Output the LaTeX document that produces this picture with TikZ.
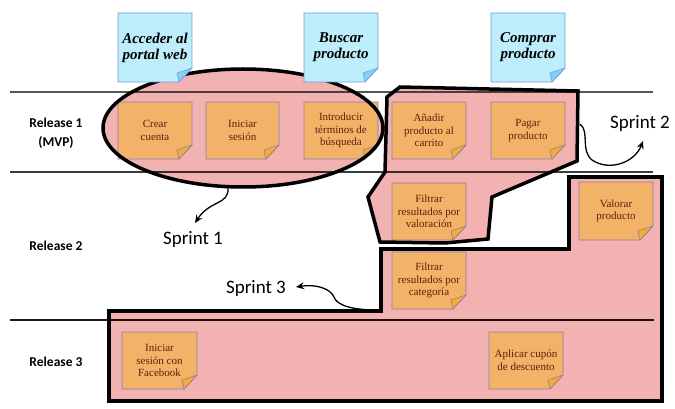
\documentclass[tikz,border=0pt]{standalone}
\usepackage{fontspec}
\setmainfont{Liberation Serif}
\newfontfamily\calibri{Carlito}
\usetikzlibrary{arrows.meta}
\definecolor{pinkf}{RGB}{242,178,178}
\definecolor{orangeb}{RGB}{242,178,104}
\definecolor{orangef}{RGB}{244,172,52}
\definecolor{stickyedge}{RGB}{140,125,165}
\definecolor{stickytext}{RGB}{100,28,12}
\definecolor{blueb}{RGB}{190,237,252}
\definecolor{bluef}{RGB}{135,208,245}
\definecolor{blueedge}{RGB}{110,160,215}
\tikzset{
  obody/.style={fill=orangeb, draw=stickyedge, line width=0.8pt},
  ofold/.style={fill=orangef, draw=stickyedge, line width=0.6pt, line join=round},
  otext/.style={align=center, font=\fontsize{11}{12.7}\selectfont, text=stickytext, inner sep=0pt},
  bbody/.style={fill=blueb, draw=blueedge, line width=0.8pt},
  bfold/.style={fill=bluef, draw=blueedge, line width=0.6pt, line join=round},
  btext/.style={align=center, font=\fontsize{15}{16}\selectfont\bfseries\itshape, text=black, inner sep=0pt},
  sprintline/.style={draw=black, line width=3.5pt, line join=miter},
  sprintfill/.style={fill=pinkf},
  sprintlabel/.style={font=\fontsize{19}{22}\calibri, inner sep=0pt},
  relabel/.style={font=\fontsize{13.5}{19}\calibri\bfseries, align=center, inner sep=0pt},
  sparrow/.style={-{Stealth[length=8pt,width=7pt]}, line width=1.3pt},
  lane/.style={line width=1.8pt}
}
% #1 kind (o/b), #2 name, #3 x1, #4 y1, #5 x2, #6 y2, #7 text
\newcommand\sticky[7]{%
  \filldraw[#1body] (#3,#4) -- (#5,#4) -- (#5,#6-14) -- (#5-13,#6) -- (#3,#6) -- cycle;
  \filldraw[#1fold] (#5-13,#6) -- (#5,#6-14) -- (#5-15,#6-9) -- cycle;
  \node[#1text] (#2) at ({(#3+#5)/2},{(#4+#6)/2}) {#7};
}
\begin{document}
\begin{tikzpicture}[x=1pt,y=-1pt]
\useasboundingbox (0,0) rectangle (675,409);
% lanes
\coordinate (l1a) at (10,92);  \coordinate (l1b) at (653,92);
\coordinate (l2a) at (10,172); \coordinate (l2b) at (653,172);
\coordinate (l3a) at (10,320); \coordinate (l3b) at (654,320);
\draw[lane, draw={rgb,255:red,85;green,85;blue,85}] (l1a) -- (l1b);
\draw[lane, line width=1.4pt, draw={rgb,255:red,60;green,60;blue,60}] (l2a) -- (l2b);
\draw[lane, line width=1.4pt, draw={rgb,255:red,40;green,20;blue,20}] (l3a) -- (l3b);
% release labels
\node[relabel] (r1) at (56,133) {Release 1\\(MVP)};
\node[relabel] (r2) at (56,246) {Release 2};
\node[relabel] (r3) at (56,362) {Release 3};
% sprint fills (multiply so lanes show through)
\begin{scope}[blend mode=multiply]
\fill[sprintfill] (243,128) ellipse [x radius=140, y radius=59];
\fill[sprintfill] (400,87) -- (578,91) -- (577,161) -- (492,197) -- (488,239) -- (445,243) -- (380,242) -- (368,197) -- (385,172) -- (387,97) -- cycle;
\fill[sprintfill] (109,311) -- (381,311) -- (381,249) -- (569,249) -- (569,177) -- (662,177) -- (662,401) -- (109,401) -- cycle;
\end{scope}
% orange stickies
\sticky{o}{crear}{118}{102}{192}{159}{Crear\\cuenta}
\sticky{o}{inic}{206}{102}{279}{159}{Iniciar\\sesión}
\sticky{o}{intro}{304}{102}{378}{159}{Introducir\\términos de\\búsqueda}
\sticky{o}{anad}{392}{102}{466}{159}{Añadir\\producto al\\carrito}
\sticky{o}{pagar}{491}{102}{565}{159}{Pagar\\producto}
\sticky{o}{filval}{392}{183}{466}{240}{Filtrar\\resultados por\\valoración}
\sticky{o}{valorar}{579}{182}{653}{240}{Valorar\\producto}
\sticky{o}{filcat}{392}{252}{466}{309}{Filtrar\\resultados por\\categoría}
\sticky{o}{face}{122}{332}{197}{389}{Iniciar\\sesión con\\Facebook}
\sticky{o}{cupon}{489}{332}{563}{389}{Aplicar cupón\\de descuento}
% sprint outlines
\draw[sprintline] (243,128) ellipse [x radius=140, y radius=59];
\draw[sprintline] (400,87) -- (578,91) -- (577,161) -- (492,197) -- (488,239) -- (445,243) -- (380,242) -- (368,197) -- (385,172) -- (387,97) -- cycle;
\draw[sprintline] (109,311) -- (381,311) -- (381,249) -- (569,249) -- (569,177) -- (662,177) -- (662,401) -- (109,401) -- cycle;
% blue stickies
\sticky{b}{acc}{118}{13}{192}{82}{Acceder al\\portal web}
\sticky{b}{bus}{304}{13}{378}{82}{Buscar\\producto}
\sticky{b}{com}{491}{13}{565}{82}{Comprar\\producto}
% sprint labels and arrows
\node[sprintlabel] (sp1) at (193,239) {Sprint 1};
\node[sprintlabel] (sp2) at (640,123) {Sprint 2};
\node[sprintlabel] (sp3) at (256,288) {Sprint 3};
\coordinate (s1s) at (228,188);
\coordinate (s1t) at (195,223);
\coordinate (s2s) at (580,124);
\coordinate (s2t) at (643,141);
\coordinate (s3s) at (372,310);
\coordinate (s3t) at (296,287);
\draw[sparrow] (s1s) .. controls (229,205) and (210,200) .. (s1t);
\draw[sparrow] (s2s) .. controls (590,132) and (580,150) .. (592,160) .. controls (610,172) and (635,162) .. (s2t);
\draw[sparrow] (s3s) .. controls (345,309) and (336,303) .. (334,297) .. controls (330,288) and (315,284) .. (s3t);
\end{tikzpicture}
\end{document}
